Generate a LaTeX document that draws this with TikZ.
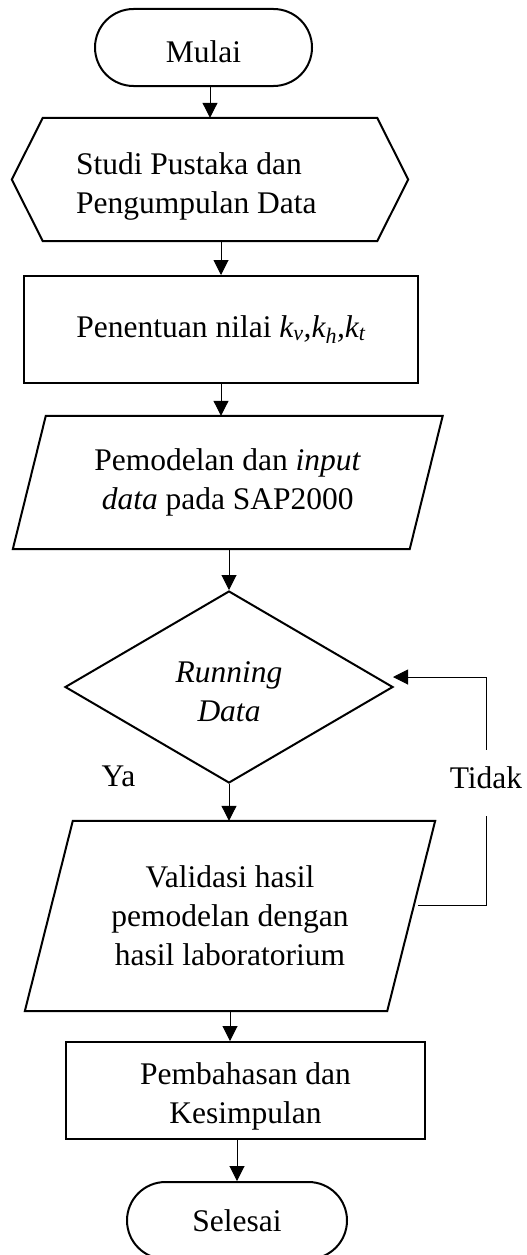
\documentclass[tikz,border=0pt]{standalone}
\usepackage{fontspec}
\setmainfont{Liberation Serif}
\usetikzlibrary{positioning}
\usetikzlibrary{shapes.geometric}
\usetikzlibrary{arrows.meta}

\tikzset{
	flowtext/.style={font=\fontsize{31.5}{39}\selectfont, align=center, inner sep=0pt},
	shapeline/.style={line width=2pt, line join=miter},
	flowline/.style={line width=1pt},
	flowarrow/.style={line width=1pt, -{Triangle[length=15pt, width=15pt]}},
	terminal/.style={flowtext, draw, shapeline, rounded corners=38.5pt, minimum height=77pt},
	processbox/.style={flowtext, draw, shapeline},
	decisionbox/.style={flowtext, draw, shapeline, shape=diamond},
}

\begin{document}
\begin{tikzpicture}[x=1pt, y=-1pt]
				\useasboundingbox (0,0) rectangle (527,1255);
				\node[terminal, minimum width=217pt, text height=30pt] (mulai) at (203.5,47.5) {Mulai};
				\node[flowtext, minimum width=396pt, minimum height=123pt, text width=268pt, align=flush left, text height=35.5pt] (studi) at (210,179.5) {Studi Pustaka dan\\Pengumpulan Data};
				\node[processbox, minimum width=394pt, minimum height=107pt] (nilai) at (221,329.5) {Penentuan nilai \textit{k\textsubscript{v},k\textsubscript{h},k\textsubscript{t}}};
				\node[flowtext, minimum width=396.5pt, minimum height=133pt] (model) at (227.75,482.5) {Pemodelan dan \textit{input}\\\textit{data} pada SAP2000};
				\node[decisionbox, minimum width=328pt, minimum height=192pt, text height=68.5pt] (running) at (229,687) {\textit{Running}\\\textit{Data}};
				\node[flowtext, minimum width=362pt, minimum height=190pt] (validasi) at (230,916) {Validasi hasil\\pemodelan dengan\\hasil laboratorium};
				\node[processbox, minimum width=359pt, minimum height=97pt, text height=72.5pt] (bahas) at (245.5,1090.5) {Pembahasan dan\\Kesimpulan};
				\node[terminal, minimum width=220pt] (selesai) at (237,1220.5) {Selesai};
				\node[flowtext] (ya) at (118.5,776) {Ya};
				\node[flowtext, text height=21pt, text depth=11pt, inner ysep=17pt] (tidak) at (486,783) {Tidak};
				\node[shape=coordinate] (balik) at (418,905) {};
				\node[shape=coordinate] (masuk) at (393,677) {};
				\begin{scope}[shapeline]
					\draw ([xshift=31pt]studi.north west) -- ([xshift=-31pt]studi.north east) -- (studi.east) -- ([xshift=-31pt]studi.south east) -- ([xshift=31pt]studi.south west) -- (studi.west) -- cycle;
					\draw ([xshift=16.5pt]model.north west) -- ([xshift=16.5pt]model.north east) -- ([xshift=-16.5pt]model.south east) -- ([xshift=-16.5pt]model.south west) -- cycle;
					\draw ([xshift=24pt]validasi.north west) -- ([xshift=24pt]validasi.north east) -- ([xshift=-24pt]validasi.south east) -- ([xshift=-24pt]validasi.south west) -- cycle;
				\end{scope}
				\draw[flowarrow] (mulai.south -| studi.north) -- (studi.north);
				\draw[flowarrow] (studi.south -| nilai.north) -- (nilai.north);
				\draw[flowarrow] (nilai.south) -- (nilai.south |- model.north);
				\draw[flowarrow] (model.south -| running.north) -- (running.north);
				\draw[flowarrow] (running.south) -- (running.south |- validasi.north);
				\draw[flowarrow] (validasi.south) -- (validasi.south |- bahas.north);
				\draw[flowarrow] (bahas.south -| selesai.north) -- (selesai.north);
				\draw[flowline] (balik) -| (tidak.south);
				\draw[flowarrow] (tidak.north) |- (masuk);
			\end{tikzpicture}
\end{document}
